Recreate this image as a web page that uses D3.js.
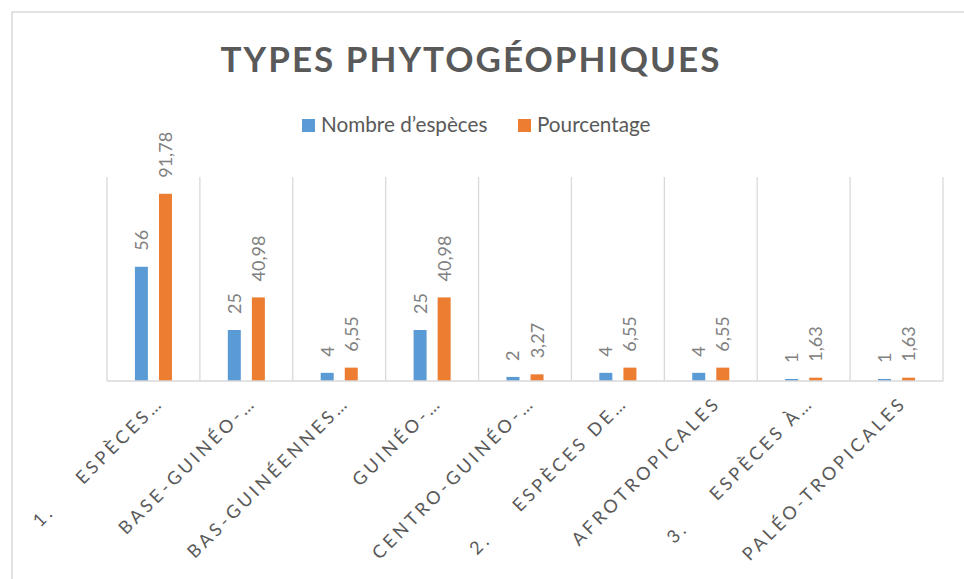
<!DOCTYPE html>
<html>
<head>
<meta charset="utf-8">
<script src="https://cdn.jsdelivr.net/npm/d3@7"></script>
<style>
  html, body { margin: 0; padding: 0; background: #fff; }
  svg { display: block; font-family: Lato, "Open Sans", sans-serif; }
</style>
</head>
<body>
<svg id="chart" width="964" height="579"></svg>
<script>
// data
const categories = [
  '1.\tESPÈCES…',
  'BASE-GUINÉO-…',
  'BAS-GUINÉENNES…',
  'GUINÉO-…',
  'CENTRO-GUINÉO-…',
  '2.\tESPÈCES DE…',
  'AFROTROPICALES',
  '3.\tESPÈCES À…',
  'PALÉO-TROPICALES'
];
const nombre = [56, 25, 4, 25, 2, 4, 4, 1, 1];
const pourcentage = [91.78, 40.98, 6.55, 40.98, 3.27, 6.55, 6.55, 1.63, 1.63];
const seriesNames = ['Nombre d’espèces', 'Pourcentage'];
const colors = ['#5b9bd5', '#ed7d31'];
const title = 'TYPES PHYTOGÉOPHIQUES';

const width = 964, height = 579;
const plot = { left: 107, right: 943, top: 177, bottom: 381 };

const svg = d3.select('#chart');

// chart area border (only top and left are visible in the frame)
svg.append('rect')
  .attr('x', 12).attr('y', 12)
  .attr('width', width).attr('height', height)
  .attr('fill', '#fff')
  .attr('stroke', '#d9d9d9')
  .attr('stroke-width', 1.5);

const x0 = d3.scaleBand()
  .domain(categories)
  .range([plot.left, plot.right]);

const x1 = d3.scaleBand()
  .domain(seriesNames)
  .range([0, x0.bandwidth()])
  .paddingInner(0.46)
  .paddingOuter(1.16);

const y = d3.scaleLinear()
  .domain([0, 100])
  .range([plot.bottom, plot.top]);

// vertical gridlines between categories
const bounds = categories.map(c => x0(c)).concat([plot.right]);
svg.append('g')
  .selectAll('line')
  .data(bounds)
  .join('line')
  .attr('x1', d => d).attr('x2', d => d)
  .attr('y1', y(100)).attr('y2', y(0))
  .attr('stroke', '#d9d9d9')
  .attr('stroke-width', 1.3);

// bars
const rows = categories.map((c, i) => ({ cat: c, vals: [nombre[i], pourcentage[i]] }));

const groups = svg.append('g')
  .selectAll('g')
  .data(rows)
  .join('g')
  .attr('transform', d => `translate(${x0(d.cat)},0)`);

groups.selectAll('rect')
  .data(d => d.vals.map((v, k) => ({ v, k })))
  .join('rect')
  .attr('x', d => x1(seriesNames[d.k]))
  .attr('width', x1.bandwidth())
  .attr('y', d => y(d.v))
  .attr('height', d => y(0) - y(d.v))
  .attr('fill', d => colors[d.k]);

// data labels, rotated
const fmt = v => String(v).replace('.', ',');
groups.selectAll('text')
  .data(d => d.vals.map((v, k) => ({ v, k })))
  .join('text')
  .attr('transform', d => `translate(${x1(seriesNames[d.k]) + x1.bandwidth() / 2},${y(d.v) - 16}) rotate(-90)`)
  .attr('dy', '0.36em')
  .attr('font-size', 18)
  .attr('fill', '#808080')
  .text(d => fmt(d.v));

// baseline axis
svg.append('line')
  .attr('x1', plot.left).attr('x2', plot.right)
  .attr('y1', y(0)).attr('y2', y(0))
  .attr('stroke', '#d9d9d9')
  .attr('stroke-width', 1.3);

// category labels at -45deg
const catLabels = svg.append('g')
  .selectAll('text')
  .data(categories)
  .join('text')
  .attr('transform', d => `translate(${x0(d) + x0.bandwidth() / 2 + 11},${y(0) + 23}) rotate(-45)`)
  .attr('text-anchor', 'end')
  .attr('font-size', 18)
  .attr('letter-spacing', 3.5)
  .attr('fill', '#595959');

catLabels.each(function(d) {
  const parts = d.split('\t');
  const t = d3.select(this);
  if (parts.length > 1) {
    t.append('tspan').text(parts[0]);
    t.append('tspan').attr('dx', 39).text(parts[1]);
  } else {
    t.append('tspan').text(d);
  }
});

// title
svg.append('text')
  .attr('x', 471).attr('y', 72)
  .attr('text-anchor', 'middle')
  .attr('font-size', 35)
  .attr('font-weight', 'bold')
  .attr('letter-spacing', 2)
  .attr('fill', '#595959')
  .text(title);

// legend
const legendX = [302, 518];
const legend = svg.append('g')
  .selectAll('g')
  .data(seriesNames)
  .join('g')
  .attr('transform', (d, i) => `translate(${legendX[i]},119)`);

legend.append('rect')
  .attr('width', 13).attr('height', 13)
  .attr('fill', (d, i) => colors[i]);

legend.append('text')
  .attr('x', 19).attr('y', 12.5)
  .attr('font-size', 20.7)
  .attr('fill', '#595959')
  .text(d => d);
</script>
</body>
</html>
